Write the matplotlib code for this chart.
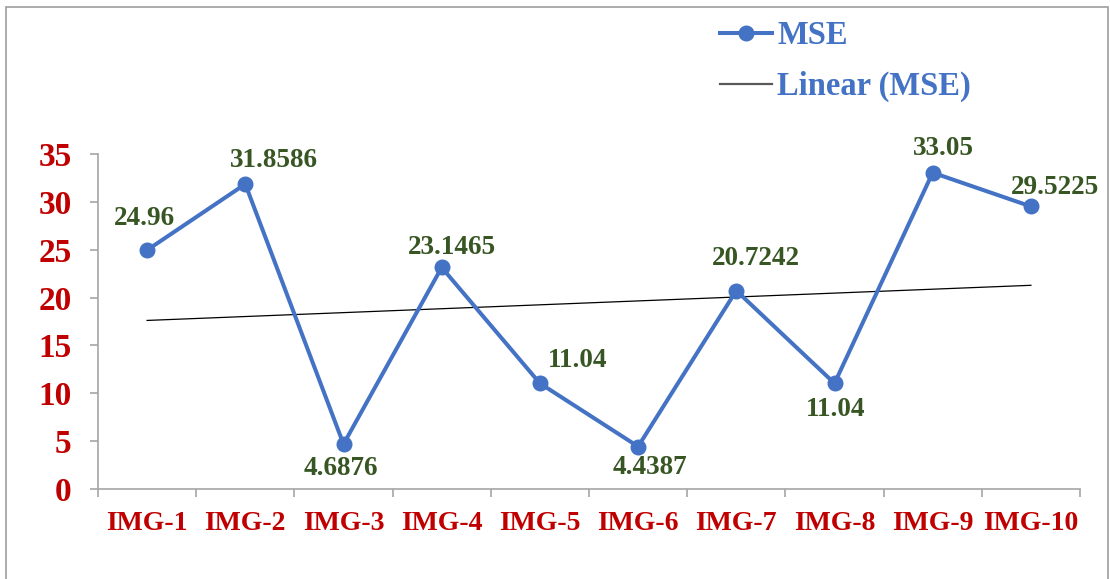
import numpy as np
import matplotlib
matplotlib.use("Agg")
import matplotlib.pyplot as plt
from matplotlib.patches import Rectangle

categories = ["IMG-1", "IMG-2", "IMG-3", "IMG-4", "IMG-5",
              "IMG-6", "IMG-7", "IMG-8", "IMG-9", "IMG-10"]
mse = [24.96, 31.8586, 4.6876, 23.1465, 11.04, 4.4387, 20.7242, 11.04, 33.05, 29.5225]
labels = ["24.96", "31.8586", "4.6876", "23.1465", "11.04",
          "4.4387", "20.7242", "11.04", "33.05", "29.5225"]
# label offsets from each point, in pixels (x, y)
label_off = [(-3, 32), (29, 24), (-3, -24), (10, 20), (38, 23),
             (12, -21), (20, 32), (1, -26), (11, 24), (24, 19)]

BLUE = "#4472C4"
RED = "#C00000"
GREEN = "#375623"
GREY = "#A6A6A6"

plt.rcParams["font.family"] = ["Liberation Serif", "DejaVu Serif"]
plt.rcParams["font.weight"] = "bold"

fig = plt.figure(figsize=(11.10, 5.79), dpi=100)
fig.patches.append(Rectangle((6 / 1110, -0.05), 1102 / 1110, 1.05 - 7 / 579,
                             transform=fig.transFigure, fill=False,
                             edgecolor="#9E9E9E", lw=1.2))
ax = fig.add_axes([98 / 1110, 1 - 489 / 579, 982 / 1110, 335 / 579])

x = np.arange(1, len(mse) + 1)
ax.plot(x, mse, "-o", color=BLUE, lw=2.9, ms=10.5, label="MSE", zorder=3)
k, b = np.polyfit(x, mse, 1)
ax.plot(x, k * x + b, color="black", lw=0.9, label="Linear (MSE)", zorder=2)

for xi, yi, txt, (dx, dy) in zip(x, mse, labels, label_off):
    ax.annotate(txt, (xi, yi), xytext=(dx, dy), textcoords="offset pixels",
                ha="center", va="center", color=GREEN, fontsize=19.5,
                fontweight="bold")

ax.set_xlim(0.5, 10.5)
ax.set_ylim(0, 35)
ax.set_yticks(range(0, 36, 5))
ax.set_xticks(x)
ax.set_xticklabels(categories)
ax.set_xticks(np.arange(0.5, 11, 1), minor=True)
ax.tick_params(axis="x", which="major", length=0, pad=16, labelsize=20, labelcolor=RED)
ax.tick_params(axis="x", which="minor", length=6, width=1.2, color=GREY, direction="out")
ax.tick_params(axis="y", length=6, width=1.2, color=GREY, pad=13, labelsize=24,
               labelcolor=RED)
for t in ax.get_xticklabels() + ax.get_yticklabels():
    t.set_fontweight("bold")
for s in ["top", "right"]:
    ax.spines[s].set_visible(False)
for s in ["left", "bottom"]:
    ax.spines[s].set_color(GREY)
    ax.spines[s].set_linewidth(1.2)

leg = fig.legend(loc="upper left", bbox_to_anchor=(720 / 1110, 1 - 20 / 579),
                 frameon=False, fontsize=23.5, handlelength=1.6, handletextpad=0.15,
                 labelspacing=0.62, borderaxespad=0, borderpad=0)
for t in leg.get_texts():
    t.set_color(BLUE)
    t.set_fontweight("bold")
trend_handle = leg.get_lines()[1]
trend_handle.set_color("#595959")
trend_handle.set_linewidth(1.6)

fig.savefig("out.png", dpi=100)
